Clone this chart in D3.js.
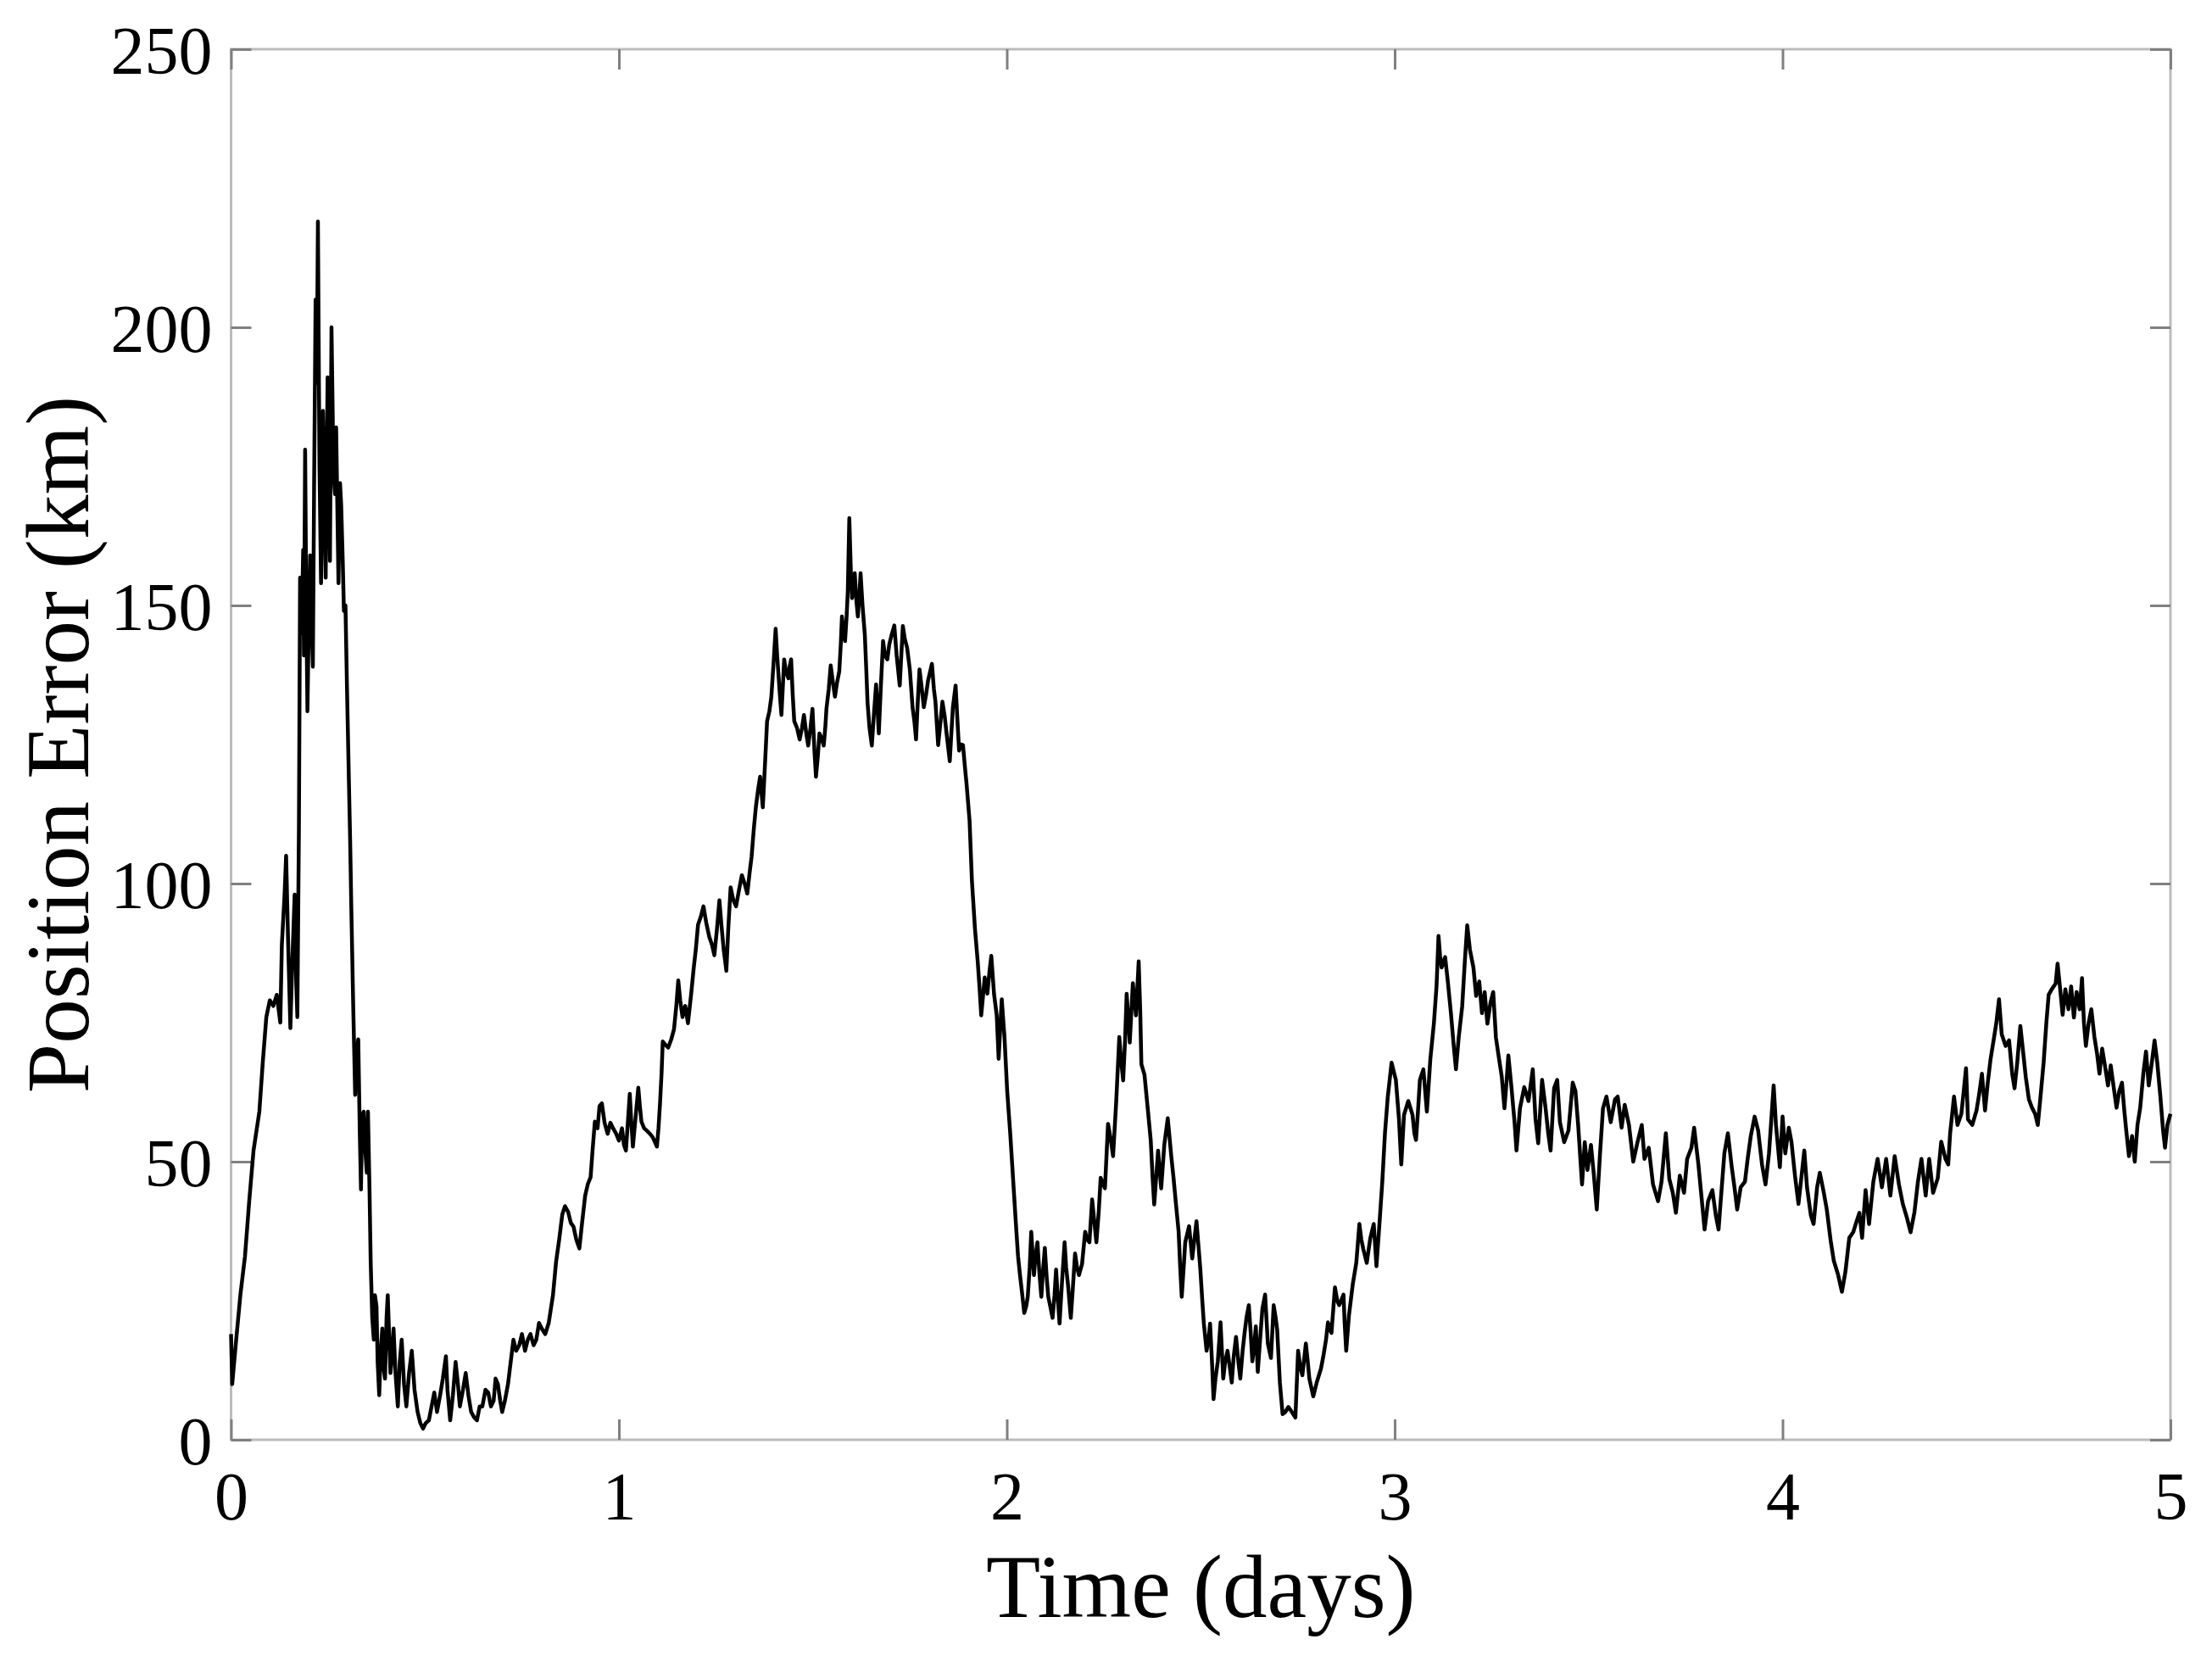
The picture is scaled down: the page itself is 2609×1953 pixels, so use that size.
<!DOCTYPE html>
<html><head><meta charset="utf-8">
<script src="https://cdn.jsdelivr.net/npm/d3@7"></script>
<style>html,body{margin:0;padding:0;background:#fff;} svg{display:block;}</style>
</head><body>
<svg id="chart" width="2609" height="1953"></svg>
<script>
const xTicks = [0, 1, 2, 3, 4, 5];
const yTicks = [0, 50, 100, 150, 200, 250];
const xTitle = "Time (days)";
const yTitle = "Position Error (km)";

// [time (days), position error (km)]
const segDay0 = [[0,19],[0.003,10],[0.012,17],[0.024,26],[0.036,33],[0.047,43],[0.058,52],[0.073,59],[0.082,68],[0.091,76],[0.1,79],[0.109,78],[0.118,80],[0.127,75],[0.131,89],[0.138,98],[0.142,105],[0.147,90],[0.153,74],[0.158,86],[0.164,98],[0.168,82],[0.171,76],[0.175,110],[0.178,155],[0.182,145],[0.186,160],[0.188,141],[0.191,178],[0.194,150],[0.197,131],[0.2,145],[0.204,159],[0.207,148],[0.211,139],[0.214,170],[0.218,205],[0.221,190],[0.224,219],[0.228,175],[0.232,154],[0.235,170],[0.237,185],[0.241,168],[0.244,155],[0.247,178],[0.249,191],[0.252,175],[0.255,158],[0.259,200],[0.262,185],[0.264,174],[0.268,170],[0.271,182],[0.274,168],[0.277,154],[0.281,172],[0.284,168],[0.288,158],[0.291,149],[0.295,150],[0.299,135],[0.304,118],[0.307,108],[0.31,96],[0.315,78],[0.32,62],[0.324,70],[0.328,72],[0.332,55],[0.335,45],[0.338,58],[0.342,59],[0.346,52],[0.35,48],[0.353,59],[0.357,45],[0.36,32],[0.364,22],[0.368,18],[0.371,26],[0.375,24],[0.378,14],[0.382,8],[0.386,16],[0.39,20],[0.393,13],[0.397,11],[0.401,22],[0.404,26],[0.408,18],[0.411,12],[0.415,15],[0.419,20],[0.424,12],[0.43,6],[0.435,14],[0.44,18],[0.446,10],[0.452,6],[0.459,12],[0.466,16],[0.473,9],[0.481,5],[0.488,3],[0.495,2],[0.502,3],[0.51,3.5],[0.517,6],[0.524,8.5],[0.531,5],[0.539,8],[0.546,11],[0.554,15],[0.558,9],[0.565,3.5],[0.572,8],[0.579,14],[0.585,10],[0.59,6],[0.598,9],[0.605,12],[0.612,8],[0.619,5],[0.627,4],[0.634,3.5],[0.641,6],[0.648,6],[0.656,9],[0.663,8.5],[0.67,6],[0.677,7],[0.682,11],[0.688,10],[0.694,7],[0.699,5],[0.706,7],[0.714,10],[0.721,14],[0.728,18],[0.735,16],[0.743,17],[0.75,19],[0.758,16],[0.765,18],[0.772,19],[0.78,17],[0.787,18],[0.794,21],[0.801,20],[0.81,19],[0.819,21],[0.83,26],[0.838,32],[0.846,36],[0.854,40.5],[0.861,42],[0.869,41],[0.876,39],[0.883,38.3],[0.89,36],[0.898,34.4],[0.905,39],[0.913,43.9],[0.92,46],[0.927,47.2],[0.932,52],[0.938,57.2],[0.945,56],[0.95,60],[0.956,60.5],[0.963,57],[0.971,55],[0.978,57],[0.985,56],[0.993,55]];
const segDay1 = [[1.0,53.8],[1.008,56],[1.013,53],[1.018,52],[1.023,57],[1.028,62.2],[1.032,57],[1.036,52.7],[1.043,58],[1.05,63.3],[1.054,60],[1.058,57.2],[1.065,56],[1.073,55.5],[1.08,55],[1.087,54.4],[1.093,53.5],[1.098,52.7],[1.102,56],[1.106,60.5],[1.11,66],[1.113,71.6],[1.12,71],[1.127,70.5],[1.135,72],[1.142,73.8],[1.148,78],[1.153,82.6],[1.158,79],[1.164,76],[1.171,78],[1.178,74.9],[1.186,80],[1.193,84.9],[1.198,88],[1.204,92.6],[1.211,94],[1.218,95.9],[1.225,93],[1.233,90.4],[1.24,89],[1.246,87.1],[1.253,92],[1.259,97],[1.265,92],[1.27,88.2],[1.277,84.3],[1.282,92],[1.288,99.3],[1.295,97],[1.302,95.9],[1.31,99],[1.317,101.5],[1.324,100],[1.331,98.2],[1.337,102],[1.342,104.8],[1.348,110],[1.353,113.7],[1.359,117],[1.364,119.2],[1.368,116],[1.371,113.7],[1.377,122],[1.382,129.2],[1.388,131],[1.393,133.6],[1.399,140],[1.404,145.8],[1.408,141],[1.412,136.9],[1.416,133],[1.419,130.3],[1.423,136],[1.426,140.3],[1.431,138],[1.437,136.9],[1.44,139],[1.444,140.3],[1.448,134],[1.452,129.2],[1.459,128],[1.466,125.9],[1.472,128],[1.477,130.3],[1.483,127],[1.488,124.8],[1.494,128],[1.499,131.4],[1.504,124],[1.508,119.2],[1.513,123],[1.517,127],[1.523,126],[1.528,124.8],[1.532,128],[1.535,131.4],[1.541,135],[1.546,139.2],[1.552,136],[1.557,133.6],[1.562,136],[1.568,138.1],[1.572,143],[1.575,148],[1.579,145],[1.583,143.6],[1.587,148],[1.59,152.4],[1.594,165.7],[1.598,156],[1.601,151.3],[1.605,153],[1.608,155.8],[1.612,151],[1.616,148],[1.62,152],[1.623,155.8],[1.628,150],[1.634,144.7],[1.638,138],[1.641,132.5],[1.646,128],[1.652,124.8],[1.657,130],[1.663,135.8],[1.667,131],[1.67,127],[1.675,135],[1.681,143.6],[1.686,141],[1.692,140.3],[1.697,143],[1.703,144.7],[1.71,146.4],[1.716,141],[1.724,135.6],[1.728,141],[1.732,146.3],[1.737,144],[1.743,142.4],[1.75,138.5],[1.757,131.7],[1.762,129],[1.766,125.9],[1.77,132],[1.775,138.5],[1.781,135],[1.786,131.7],[1.792,134],[1.797,136.5],[1.802,138],[1.807,139.5],[1.812,135],[1.816,132.7],[1.823,124.9],[1.829,129],[1.834,132.7],[1.84,130],[1.845,126.8],[1.853,122],[1.857,127],[1.861,131.7],[1.868,135.6],[1.873,129],[1.877,123.9],[1.882,125],[1.887,124.9],[1.892,121],[1.896,118.1],[1.904,111.3],[1.91,100.6],[1.918,91.8],[1.925,86],[1.93,81],[1.934,76.3],[1.939,80],[1.943,83.1],[1.95,80.2],[1.955,84],[1.96,87],[1.967,80.2],[1.974,76.3],[1.979,68.5],[1.983,74],[1.987,79.2],[1.994,72.4]];
const segDay2 = [[2.001,62.7],[2.009,54.9],[2.016,47.1],[2.023,39.3],[2.029,33],[2.034,29.6],[2.04,26],[2.045,22.8],[2.05,24],[2.054,25.7],[2.059,31],[2.063,37.4],[2.07,29.6],[2.074,33],[2.079,35.5],[2.084,30],[2.089,25.7],[2.093,30],[2.098,34.5],[2.103,29],[2.107,25.7],[2.112,24],[2.118,21.9],[2.123,26],[2.127,30.6],[2.132,25],[2.136,20.9],[2.142,28],[2.149,35.5],[2.153,31],[2.158,27.7],[2.165,21.9],[2.17,27],[2.176,33.5],[2.181,31],[2.186,29.6],[2.194,31.6],[2.202,37.4],[2.207,36],[2.213,35.5],[2.22,43.2],[2.226,39],[2.231,35.5],[2.237,41],[2.242,47.1],[2.253,45.2],[2.257,51],[2.261,56.8],[2.268,54],[2.274,51],[2.282,60.7],[2.29,72.4],[2.295,68],[2.3,64.6],[2.305,72],[2.309,80.2],[2.313,76],[2.317,71.4],[2.325,82.1],[2.333,76.3],[2.34,86],[2.344,77],[2.347,67.5],[2.355,65.6],[2.363,59.8],[2.371,53.9],[2.376,47],[2.38,42.3],[2.385,47],[2.39,52],[2.398,45.2],[2.406,53],[2.415,57.8],[2.42,54],[2.424,51],[2.43,47],[2.435,43.2],[2.443,37.4],[2.447,31],[2.451,25.7],[2.456,31],[2.46,35.5],[2.47,38.4],[2.478,32.6],[2.489,39.3],[2.494,35],[2.499,30.6],[2.504,25],[2.508,20.9],[2.515,16],[2.52,18],[2.524,20.9],[2.529,14],[2.533,7.3],[2.538,11],[2.544,14.1],[2.551,21.1],[2.558,11],[2.563,14],[2.569,16],[2.575,13],[2.58,10.3],[2.585,15],[2.591,18.5],[2.597,14],[2.602,11],[2.608,16],[2.613,19.2],[2.618,22],[2.624,24.2],[2.629,19],[2.633,14.1],[2.638,17],[2.642,20.4],[2.647,12.2],[2.653,18],[2.659,23.6],[2.666,26.1],[2.673,17.3],[2.681,14.7],[2.688,24.2],[2.693,22],[2.697,19.8],[2.704,10.3],[2.711,4.6],[2.718,5],[2.726,5.9],[2.735,5],[2.744,4],[2.751,16],[2.757,13],[2.762,11.6],[2.771,17.3],[2.776,14],[2.78,11],[2.79,7.8],[2.799,10.3],[2.81,12.8],[2.817,15.4],[2.823,18],[2.828,21.1],[2.837,19.2],[2.846,27.4],[2.852,25],[2.857,24.2],[2.868,26.1],[2.871,21],[2.875,16],[2.882,22.3],[2.892,28],[2.901,31.8],[2.909,38.8],[2.914,36],[2.919,34.3],[2.928,31.8],[2.937,36.2],[2.946,38.8],[2.953,31.2],[2.96,38.1],[2.968,46.3],[2.975,55.2],[2.982,61.5],[2.992,67.8]];
const segDay3 = [[3.003,64.7],[3.011,57.7],[3.017,49.5],[3.024,58.4],[3.035,60.9],[3.046,58.4],[3.051,55],[3.055,53.9],[3.06,59],[3.065,64.7],[3.074,66.6],[3.083,59],[3.092,68.5],[3.101,74.8],[3.108,81.7],[3.113,90.6],[3.117,87],[3.121,84.9],[3.13,86.8],[3.137,82.4],[3.145,76.7],[3.152,71],[3.158,66.6],[3.165,72.3],[3.174,77.9],[3.181,86.2],[3.187,92.5],[3.194,88.1],[3.203,84.9],[3.21,79.8],[3.218,82.4],[3.225,76.7],[3.232,80.5],[3.239,74.8],[3.247,78.6],[3.254,80.5],[3.261,72.3],[3.269,68.5],[3.276,65.3],[3.283,59.6],[3.288,64],[3.293,69.1],[3.301,63.4],[3.309,57.1],[3.314,52],[3.323,59.6],[3.334,63.4],[3.345,60.9],[3.356,66.6],[3.363,57.7],[3.37,53.3],[3.38,64.7],[3.389,59.6],[3.396,55],[3.402,52],[3.411,63.2],[3.419,64.7],[3.426,57.1],[3.437,53.5],[3.448,55.6],[3.459,64.2],[3.466,62.7],[3.473,56.6],[3.483,45.9],[3.49,53.5],[3.497,48.5],[3.506,53],[3.513,48],[3.521,41.4],[3.529,51],[3.537,59.6],[3.546,61.7],[3.557,57.1],[3.568,61.2],[3.575,61.7],[3.585,56.1],[3.593,60.2],[3.604,56.6],[3.615,50],[3.626,53.5],[3.637,56.6],[3.644,50.5],[3.655,52.5],[3.666,45.9],[3.679,42.9],[3.688,46.4],[3.699,55.1],[3.708,46.9],[3.717,44.4],[3.725,40.8],[3.735,47.5],[3.746,44.4],[3.754,50.5],[3.765,52.5],[3.772,56.1],[3.783,49.5],[3.79,44.4],[3.799,37.8],[3.808,42.9],[3.819,44.9],[3.828,40.3],[3.835,37.8],[3.841,43.4],[3.85,51.5],[3.859,55.1],[3.869,49],[3.876,45.4],[3.883,41.4],[3.892,45.4],[3.903,46.4],[3.91,50.5],[3.918,54.6],[3.928,58.1],[3.937,55.6],[3.947,49.5],[3.956,45.9],[3.965,51.5],[3.972,58.6],[3.977,63.7],[3.983,56.6],[3.993,49]];
const segDay4 = [[4.0,58.1],[4.007,51.5],[4.016,56.1],[4.023,53.5],[4.032,47.5],[4.041,42.4],[4.049,47.5],[4.056,52],[4.063,45.4],[4.073,40.3],[4.08,38.8],[4.089,45.4],[4.096,48],[4.105,44.9],[4.114,41.4],[4.124,35.8],[4.132,32.2],[4.143,29.7],[4.153,26.6],[4.162,30.2],[4.172,36.3],[4.182,37.3],[4.191,39.3],[4.198,40.8],[4.205,36.3],[4.214,44.9],[4.223,38.8],[4.234,46.4],[4.245,50.5],[4.256,45.4],[4.267,50.5],[4.278,43.9],[4.289,51],[4.3,45.9],[4.31,42.4],[4.321,39.8],[4.33,37.3],[4.34,40.9],[4.349,46.4],[4.358,50.5],[4.369,43.9],[4.378,50.5],[4.388,44.4],[4.4,47],[4.409,53.6],[4.42,50.5],[4.427,49.5],[4.432,55.1],[4.442,61.7],[4.451,56.6],[4.461,58.6],[4.467,62.7],[4.473,66.8],[4.478,57.6],[4.489,56.6],[4.5,59.2],[4.507,62.2],[4.514,65.8],[4.522,59.2],[4.529,64.2],[4.536,68.3],[4.544,71.8],[4.551,74.9],[4.558,79.2],[4.565,72.9],[4.575,70.8],[4.584,71.8],[4.592,65.8],[4.598,63.2],[4.605,67.8],[4.613,74.4],[4.62,69.8],[4.627,65.2],[4.635,61.2],[4.643,59.7],[4.651,58.6],[4.658,56.6],[4.665,61.7],[4.673,67.8],[4.68,74.9],[4.686,80],[4.694,81],[4.704,82],[4.709,85.6],[4.715,81.5],[4.722,76.4],[4.729,81],[4.737,77.4],[4.744,81.5],[4.751,75.9],[4.758,80.5],[4.766,77.4],[4.772,83],[4.777,74.9],[4.782,70.8],[4.789,74.9],[4.796,77.4],[4.804,72.4],[4.811,69.3],[4.817,65.8],[4.824,70.3],[4.831,67.3],[4.839,63.7],[4.846,67.3],[4.853,63.7],[4.861,59.7],[4.868,62.7],[4.875,64.2],[4.881,59.2],[4.886,55.6],[4.893,51],[4.901,54.6],[4.908,50],[4.915,56.6],[4.922,59.7],[4.93,65.8],[4.937,69.8],[4.944,63.7],[4.952,67.8],[4.959,71.8],[4.966,67.8],[4.974,61.7],[4.981,55.6],[4.986,52.5],[4.992,56.6],[5.0,58.6]];

const series = [].concat(segDay0, segDay1, segDay2, segDay3, segDay4).map(([t, v]) => ({t, v}));

const W = 2609, H = 1953;
const m = {left: 272.5, right: 2560, top: 58, bottom: 1698};
const font = "'Liberation Serif','Times New Roman',serif";

const x = d3.scaleLinear().domain([0, 5]).range([m.left, m.right]);
const y = d3.scaleLinear().domain([0, 250]).range([m.bottom, m.top]);

const svg = d3.select('#chart');
svg.append('rect').attr('width', W).attr('height', H).attr('fill', '#fff');

// axes box
svg.append('rect')
  .attr('x', m.left).attr('y', m.top)
  .attr('width', m.right - m.left).attr('height', m.bottom - m.top)
  .attr('fill', 'none').attr('stroke', '#bcbcbc').attr('stroke-width', 3);

function styleAxis(g) {
  g.select('.domain').remove();
  g.selectAll('.tick line').attr('stroke', '#808080').attr('stroke-width', 3);
  g.selectAll('.tick text').attr('fill', '#000').attr('font-family', font).attr('font-size', 80);
}

svg.append('g').attr('transform', `translate(0,${m.bottom})`)
  .call(d3.axisBottom(x).tickValues(xTicks).tickFormat(d3.format('d')).tickSizeInner(-24).tickSizeOuter(0).tickPadding(37))
  .call(styleAxis);
svg.append('g').attr('transform', `translate(0,${m.top})`)
  .call(d3.axisTop(x).tickValues(xTicks).tickFormat(() => '').tickSizeInner(-24).tickSizeOuter(0))
  .call(styleAxis);
svg.append('g').attr('transform', `translate(${m.left},0)`)
  .call(d3.axisLeft(y).tickValues(yTicks).tickFormat(d3.format('d')).tickSizeInner(-24).tickSizeOuter(0).tickPadding(22))
  .call(styleAxis)
  .call(g => g.selectAll('.tick text').attr('dy', '0.35em'));
svg.append('g').attr('transform', `translate(${m.right},0)`)
  .call(d3.axisRight(y).tickValues(yTicks).tickFormat(() => '').tickSizeInner(-24).tickSizeOuter(0))
  .call(styleAxis);

// data line
svg.append('path').datum(series)
  .attr('fill', 'none').attr('stroke', '#000').attr('stroke-width', 4.5)
  .attr('stroke-linejoin', 'round')
  .attr('d', d3.line().x(d => x(d.t)).y(d => y(d.v)));

// titles
svg.append('text').attr('x', (m.left + m.right) / 2).attr('y', 1907)
  .attr('text-anchor', 'middle').attr('font-family', font).attr('font-size', 105).attr('fill', '#000')
  .text(xTitle);
svg.append('text').attr('transform', `translate(104,${(m.top + m.bottom) / 2}) rotate(-90)`)
  .attr('text-anchor', 'middle').attr('font-family', font).attr('font-size', 105).attr('fill', '#000')
  .text(yTitle);
</script>
</body></html>
